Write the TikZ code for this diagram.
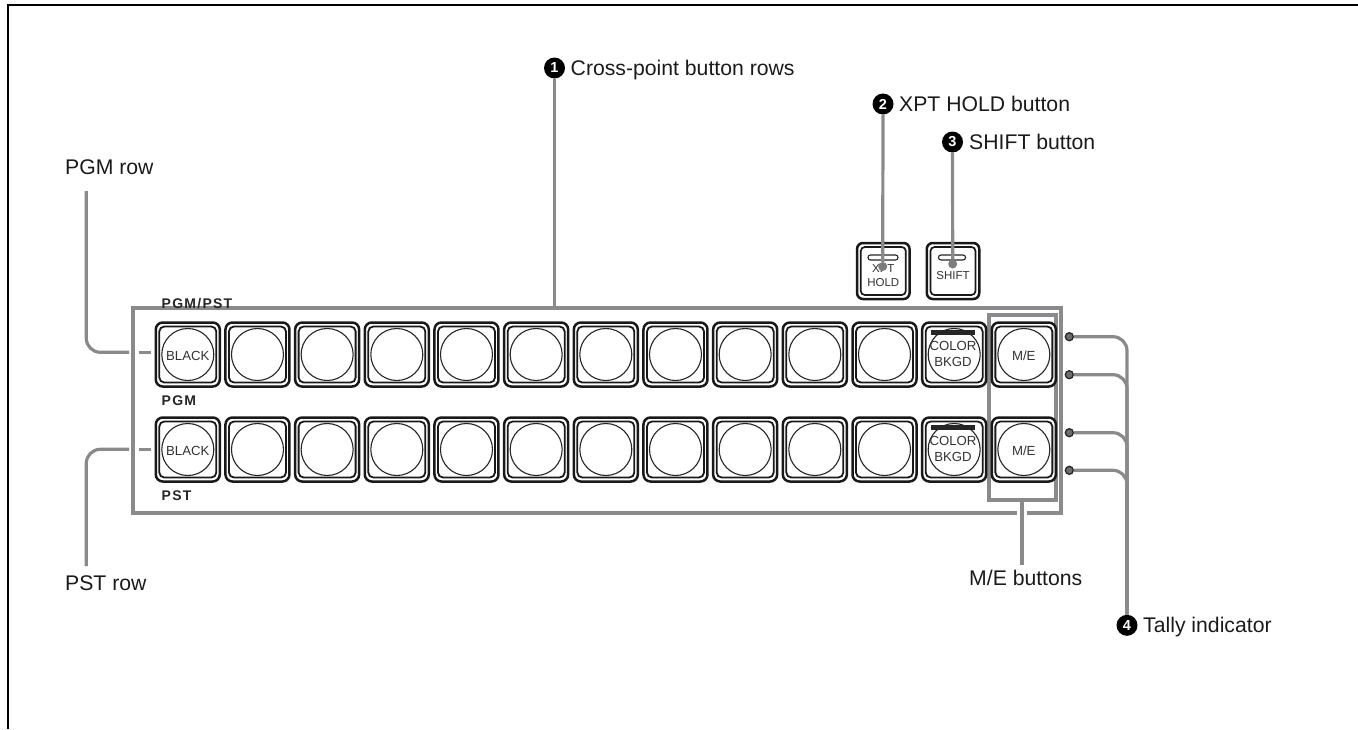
\documentclass[tikz,border=0pt]{standalone}
\usepackage{fontspec}
\setmainfont{Liberation Sans}
\newfontfamily\spacedbold[LetterSpace=9]{Liberation Sans Bold}
\definecolor{leadgray}{HTML}{8A8A8D}
\definecolor{captxt}{HTML}{333333}
\definecolor{dotgray}{HTML}{6E6E6E}
\definecolor{lbltxt}{HTML}{1A1A1A}
\tikzset{
  grayframe/.style={draw=leadgray,line width=3.2pt,inner sep=0pt,fill=none},
  leader/.style={draw=leadgray,line width=3.2pt},
  btnouter/.style={draw=black!90,line width=2.5pt,rounded corners=7pt,inner sep=0pt,fill=white,minimum width=64pt,minimum height=64pt},
  btninner/.style={draw=black!90,line width=1.8pt,rounded corners=5pt,inner sep=0pt,minimum width=57pt,minimum height=56pt},
  disc/.style={draw=black!85,line width=1.1pt,circle,inner sep=0pt,minimum size=52pt},
  smallouter/.style={draw=black!90,line width=2.5pt,rounded corners=6pt,inner sep=0pt,fill=white,minimum width=52.5pt,minimum height=56pt},
  smallinner/.style={draw=black!90,line width=1.7pt,rounded corners=4pt,inner sep=0pt,minimum width=45pt,minimum height=48pt},
  slot/.style={draw=black!85,line width=1.1pt,rounded corners=2.4pt,inner sep=0pt,minimum height=5pt},
  barmark/.style={fill=black!85,inner sep=0pt,minimum width=44pt,minimum height=4.6pt},
  captext/.style={text=captxt,font=\fontsize{13.2}{14}\selectfont,inner sep=0pt,anchor=base},
  capsmall/.style={text=captxt,font=\fontsize{11.5}{12}\selectfont,inner sep=0pt,anchor=base},
  rowtag/.style={text=black!85,font=\fontsize{14}{15}\spacedbold,inner sep=0pt,anchor=base west},
  lbl/.style={text=lbltxt,font=\fontsize{21.2}{22}\selectfont,inner sep=0pt,anchor=base west},
  bullet/.style={circle,fill=black,text=white,inner sep=0pt,minimum size=21pt,font=\fontsize{14.5}{14}\selectfont\bfseries},
  tally/.style={circle,draw=black!85,line width=1.3pt,fill=dotgray,inner sep=0pt,minimum size=8pt},
  pointer/.style={circle,fill=dotgray!90,inner sep=0pt,minimum size=9pt},
}
\begin{document}
\begin{tikzpicture}[x=1pt,y=-1pt]
\useasboundingbox (0,0) rectangle (1358,729);
% page frame
\coordinate (pageTR) at (1358,5);
\coordinate (pageTL) at (8,5);
\coordinate (pageBL) at (8,729);
\draw[line width=2pt,black] (pageTR) -- (pageTL) -- (pageBL);

% panel frames
\node[grayframe,minimum width=928pt,minimum height=205pt] (panel) at (597,410.5) {};
\node[grayframe,minimum width=67pt,minimum height=185pt] (mebox) at (1022.5,407.5) {};

% gap of the panel frame around the crossing leader
\fill[white] (1017,508) rectangle (1027,518);

% row captions
\node[rowtag] (tagPP) at (161.5,308) {PGM/PST};
\node[rowtag] (tagPGM) at (161.5,405) {PGM};
\node[rowtag] (tagPST) at (161.5,500) {PST};

% buttons
\foreach \i in {0,...,12}{
  \pgfmathsetmacro{\bx}{187.8+69.67*\i}
  \foreach \r/\by in {A/354.5,B/449.5}{
    \node[btnouter] (out\r\i) at (\bx,\by) {};
    \node[btninner] (inn\r\i) at (\bx,\by) {};
    \node[disc] (disc\r\i) at (\bx,\by) {};
  }
}
\node[captext] (blackA) at (187.8,360) {BLACK};
\node[captext] (blackB) at (187.8,455) {BLACK};
\node[captext] (meA) at (1023.8,360) {M/E};
\node[captext] (meB) at (1023.8,455) {M/E};
\node[barmark] (barA) at (953,332.3) {};
\node[barmark] (barB) at (953,427.3) {};
\node[captext] (colA) at (953,350.7) {COLOR};
\node[captext] (bkgA) at (953,366.7) {BKGD};
\node[captext] (colB) at (953,445.7) {COLOR};
\node[captext] (bkgB) at (953,461.7) {BKGD};

% XPT HOLD and SHIFT buttons
\node[smallouter] (xout) at (883.3,271) {};
\node[smallinner] (xinn) at (883.3,271) {};
\node[slot,minimum width=30pt] (xslot) at (883,257.5) {};
\node[capsmall] (xtxt) at (883.3,272) {XPT};
\node[capsmall] (xtxtb) at (883.3,286) {HOLD};
\node[smallouter] (sout) at (953,271) {};
\node[smallinner] (sinn) at (953,271) {};
\node[slot,minimum width=27pt] (sslot) at (952,257.5) {};
\node[capsmall] (stxt) at (953,279) {SHIFT};

% tally indicators
\node[tally] (t1) at (1069.3,336.7) {};
\node[tally] (t2) at (1069.3,374.7) {};
\node[tally] (t3) at (1069.3,432.7) {};
\node[tally] (t4) at (1069.3,470.3) {};

% numbered labels
\node[bullet] (b1) at (554.5,68) {1};
\node[lbl] (l1) at (570.5,75) {Cross-point button rows};
\node[bullet] (b2) at (883,104) {2};
\node[lbl] (l2) at (899,111) {XPT HOLD button};
\node[bullet] (b3) at (952.5,142) {3};
\node[lbl] (l3) at (969,149) {SHIFT button};
\node[bullet] (b4) at (1127,625.3) {4};
\node[lbl] (l4) at (1143,632.7) {Tally indicator};
\node[lbl] (lpgm) at (65,174) {PGM row};
\node[lbl] (lpst) at (65,590.7) {PST row};
\node[lbl] (lme) at (969,585) {M/E buttons};

% pointers and leaders
\node[pointer] (xdot) at (882.7,266.5) {};
\node[pointer] (sdot) at (952.7,264) {};
\draw[leader] (b1.south) -- (panel.north -| b1);
\draw[leader] (b2.south) -- (xdot);
\draw[leader] (b3.south) -- (sdot);

\coordinate (pgmTop) at (86.3,191);
\coordinate (pgmMid) at (129,352.3);
\coordinate (pgmA) at (139,352.3);
\coordinate (pgmB) at (151,352.3);
\draw[leader,rounded corners=14pt] (pgmTop) |- (pgmMid);
\draw[leader] (pgmA) -- (pgmB);

\coordinate (pstBot) at (86.3,566);
\coordinate (pstMid) at (129,449.3);
\coordinate (pstA) at (139,449.3);
\coordinate (pstB) at (151,449.3);
\draw[leader,rounded corners=14pt] (pstBot) |- (pstMid);
\draw[leader] (pstA) -- (pstB);

\coordinate (meEnd) at (1022,565);
\draw[leader] (mebox.south -| meEnd) -- (meEnd);

\draw[leader,rounded corners=14pt] (t1.east) -| (b4.north);
\draw[leader,rounded corners=14pt] (t2.east) -| (b4.north);
\draw[leader,rounded corners=14pt] (t3.east) -| (b4.north);
\draw[leader,rounded corners=14pt] (t4.east) -| (b4.north);
\end{tikzpicture}
\end{document}
